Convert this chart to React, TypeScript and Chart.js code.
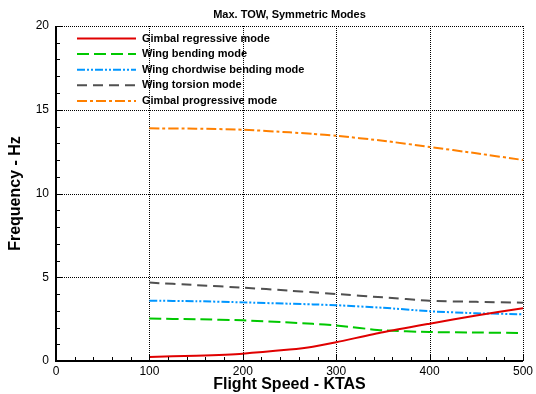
import React, { useEffect, useRef } from "react";
import { Chart, registerables } from "chart.js";

Chart.register(...registerables);

const speeds = [100, 150, 200, 250, 275, 300, 350, 400, 450, 500];
const gimbalRegressive = [0.24, 0.32, 0.44, 0.68, 0.85, 1.12, 1.72, 2.23, 2.72, 3.15];
const wingBending = [2.53, 2.49, 2.43, 2.3, 2.22, 2.12, 1.83, 1.73, 1.7, 1.67];
const wingChordwise = [3.6, 3.57, 3.5, 3.42, 3.38, 3.33, 3.18, 2.97, 2.85, 2.79];
const wingTorsion = [4.68, 4.53, 4.38, 4.2, 4.1, 4.0, 3.8, 3.6, 3.53, 3.48];
const gimbalProgressive = [13.89, 13.87, 13.81, 13.65, 13.56, 13.45, 13.15, 12.78, 12.4, 12.0];

const seriesNames = [
  "Gimbal regressive mode",
  "Wing bending mode",
  "Wing chordwise bending mode",
  "Wing torsion mode",
  "Gimbal progressive mode",
];
const seriesColors = ["#e00000", "#00c800", "#0096ff", "#505050", "#ff8000"];
const seriesDashes: number[][] = [[], [12, 5], [8, 2, 2, 2, 2, 2], [10, 6], [10, 3, 3, 3]];

const chartTitle = "Max. TOW, Symmetric Modes";
const xTitle = "Flight Speed - KTAS";
const yTitle = "Frequency - Hz";

const FONT = "Arial, 'Liberation Sans', sans-serif";

const decoPlugin = {
  id: "deco",
  beforeDatasetsDraw(chart: any) {
    const { ctx, chartArea, scales } = chart;
    const xs = scales.x;
    const ys = scales.y;
    ctx.save();
    ctx.strokeStyle = "#000";
    ctx.lineWidth = 1;
    ctx.setLineDash([1, 1]);
    for (let v = 100; v <= 500; v += 100) {
      const px = Math.round(xs.getPixelForValue(v)) + 0.5;
      ctx.beginPath();
      ctx.moveTo(px, chartArea.top);
      ctx.lineTo(px, chartArea.bottom);
      ctx.stroke();
    }
    for (let v = 5; v <= 20; v += 5) {
      const py = Math.round(ys.getPixelForValue(v)) + 0.5;
      ctx.beginPath();
      ctx.moveTo(chartArea.left, py);
      ctx.lineTo(chartArea.right, py);
      ctx.stroke();
    }
    ctx.restore();
  },
  afterDatasetsDraw(chart: any) {
    const { ctx, chartArea, scales } = chart;
    const xs = scales.x;
    const ys = scales.y;
    ctx.save();
    ctx.strokeStyle = "#000";
    ctx.setLineDash([]);
    ctx.lineWidth = 1;
    for (let v = 0; v <= 500; v += 20) {
      const px = Math.round(xs.getPixelForValue(v)) + 0.5;
      const len = v % 100 === 0 ? 7 : 4;
      ctx.beginPath();
      ctx.moveTo(px, chartArea.bottom);
      ctx.lineTo(px, chartArea.bottom - len);
      ctx.stroke();
    }
    for (let v = 0; v <= 20; v += 1) {
      const py = Math.round(ys.getPixelForValue(v)) + 0.5;
      const len = v % 5 === 0 ? 7 : 4;
      ctx.beginPath();
      ctx.moveTo(chartArea.left, py);
      ctx.lineTo(chartArea.left + len, py);
      ctx.stroke();
    }
    ctx.lineWidth = 2;
    ctx.beginPath();
    ctx.moveTo(chartArea.left, chartArea.top);
    ctx.lineTo(chartArea.left, chartArea.bottom);
    ctx.lineTo(chartArea.right, chartArea.bottom);
    ctx.stroke();

    // title
    ctx.fillStyle = "#000";
    ctx.font = `bold 11px ${FONT}`;
    ctx.textAlign = "center";
    ctx.textBaseline = "middle";
    ctx.fillText(chartTitle, (chartArea.left + chartArea.right) / 2, 15);

    // legend
    const x0 = 77;
    const x1 = 136;
    const y0 = 38.5;
    const dy = 15.6;
    ctx.font = `bold 11px ${FONT}`;
    ctx.textAlign = "left";
    chart.data.datasets.forEach((ds: any, i: number) => {
      const y = y0 + i * dy;
      ctx.strokeStyle = ds.borderColor;
      ctx.lineWidth = 2;
      ctx.setLineDash(ds.borderDash || []);
      ctx.beginPath();
      ctx.moveTo(x0, y);
      ctx.lineTo(x1, y);
      ctx.stroke();
      ctx.setLineDash([]);
      ctx.fillStyle = "#000";
      ctx.fillText(ds.label, 142, y);
    });
    ctx.restore();
  },
};

export default function App() {
  const ref = useRef<HTMLCanvasElement | null>(null);
  useEffect(() => {
    if (!ref.current) return;
    const all = [gimbalRegressive, wingBending, wingChordwise, wingTorsion, gimbalProgressive];
    const chart = new Chart(ref.current, {
      type: "line",
      data: {
        datasets: all.map((vals, i) => ({
          label: seriesNames[i],
          data: speeds.map((s, j) => ({ x: s, y: vals[j] })),
          borderColor: seriesColors[i],
          backgroundColor: seriesColors[i],
          borderDash: seriesDashes[i],
          borderWidth: 2,
          pointRadius: 0,
          tension: 0.2,
          fill: false,
        })),
      },
      options: {
        animation: false,
        responsive: false,
        devicePixelRatio: 1,
        layout: { padding: { top: 26, right: 12, left: 0, bottom: 0 } },
        plugins: {
          legend: { display: false },
          title: { display: false },
          tooltip: { enabled: false },
        },
        scales: {
          x: {
            type: "linear",
            min: 0,
            max: 500,
            ticks: { stepSize: 100, color: "#000", font: { size: 12, family: FONT }, padding: 3, maxRotation: 0 },
            grid: { display: false, drawTicks: false },
            border: { display: false },
            title: {
              display: true,
              text: xTitle,
              color: "#000",
              font: { size: 16, weight: "bold", family: FONT },
              padding: { top: 0, bottom: 0 },
            },
            afterFit: (s: any) => {
              s.height = 33;
            },
          },
          y: {
            type: "linear",
            min: 0,
            max: 20,
            ticks: { stepSize: 5, color: "#000", font: { size: 12, family: FONT }, padding: 7 },
            grid: { display: false, drawTicks: false },
            border: { display: false },
            title: {
              display: true,
              text: yTitle,
              color: "#000",
              font: { size: 16, weight: "bold", family: FONT },
              padding: { top: 6, bottom: 0 },
            },
            afterFit: (s: any) => {
              s.width = 56;
            },
          },
        },
      },
      plugins: [decoPlugin],
    });
    return () => chart.destroy();
  }, []);
  return (
    <div style={{ position: "fixed", left: 0, top: 0, width: 536, height: 394, background: "#fff" }}>
      <canvas ref={ref} width={536} height={394} style={{ display: "block" }} />
    </div>
  );
}
